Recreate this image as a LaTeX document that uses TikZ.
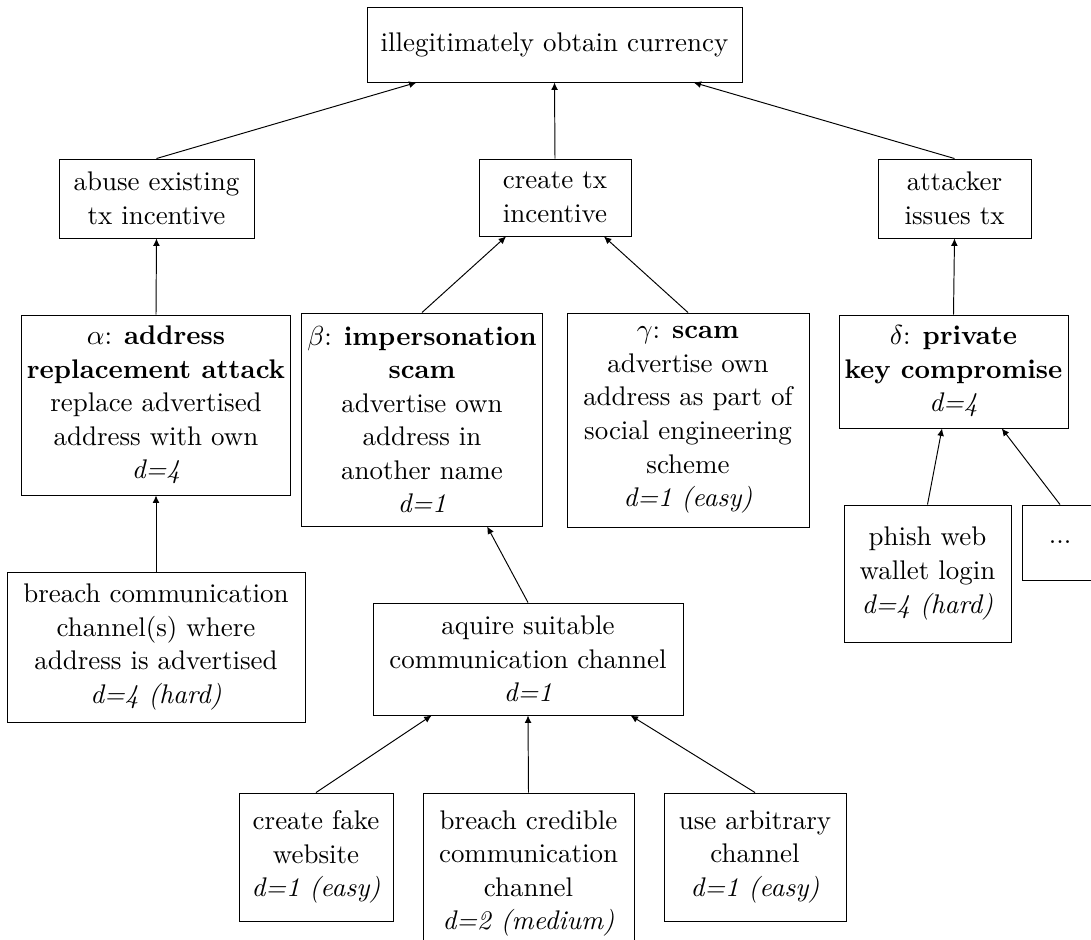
\documentclass[tikz,border=0pt]{standalone}
\usepackage{fontspec}
\usetikzlibrary{arrows.meta,calc}

\tikzset{
  box/.style={draw, line width=0.35pt, align=center, inner sep=2pt,
              font=\fontsize{9.8}{12.2}\selectfont},
  sz/.style 2 args={minimum width=#1*0.3636pt, minimum height=#2*0.3636pt},
  arr/.style={draw, line width=0.35pt, -{Latex[length=2.7pt,width=2.5pt]}},
}

\begin{document}
\begin{tikzpicture}[x=0.3636pt, y=-0.3636pt]
  \useasboundingbox (0,0) rectangle (1091,940);
  \clip (0,0) rectangle (1091,940);

  % root goal
  \node[box, sz={375}{75}] (root) at (554.5,44.5)
    {illegitimately obtain currency};

  % second level
  \node[box, sz={195}{79}] (abuse) at (156.5,198.5)
    {abuse existing\\tx incentive};
  \node[box, sz={152}{77}] (create) at (555,197.5)
    {create tx\\incentive};
  \node[box, sz={153}{79}] (issue) at (954.5,198.5)
    {attacker\\issues tx};

  % attack classes
  \node[box, sz={256}{180}] (alpha) at (156,405)
    {$\alpha$: \textbf{address}\\\textbf{replacement attack}\\replace advertised\\address with own\\\textit{d=4}};
  \node[box, sz={236}{213}] (beta) at (422,419.5)
    {$\beta$: \textbf{impersonation}\\\textbf{scam}\\advertise own\\address in\\another name\\\textit{d=1}};
  \node[box, sz={242}{214}] (gamma) at (688,420)
    {$\gamma$: \textbf{scam}\\advertise own\\address as part of\\social engineering\\scheme\\\textit{d=1 (easy)}};
  \node[box, sz={229}{113}] (delta) at (953.5,371.5)
    {$\delta$: \textbf{private}\\\textbf{key compromise}\\\textit{d=4}};

  % sub-goals
  \node[box, sz={298}{150}] (breach) at (156,647)
    {breach communication\\channel(s) where\\address is advertised\\\textit{d=4 (hard)}};
  \node[box, sz={310}{112}] (acquire) at (528,659)
    {aquire suitable\\communication channel\\\textit{d=1}};
  \node[box, sz={167}{137}] (phish) at (927.5,573.5)
    {phish web\\wallet login\\\textit{d=4 (hard)}};
  \node[box, sz={76}{75}] (more) at (1060,542.5)
    {...};

  % channel options
  \node[box, sz={154}{128}] (fake) at (316,857)
    {create fake\\website\\\textit{d=1 (easy)}};
  \node[box, sz={211}{161}] (cred) at (528.5,873.5)
    {breach credible\\communication\\channel\\\textit{d=2 (medium)}};
  \node[box, sz={182}{128}] (arbit) at (755,857)
    {use arbitrary\\channel\\\textit{d=1 (easy)}};

  % connectors, child to parent
  \draw[arr] (abuse.north)  -- ($(root.south west)!0.133!(root.south east)$);
  \draw[arr] (create.north) -- (root.south);
  \draw[arr] (issue.north)  -- ($(root.south west)!0.87!(root.south east)$);

  \draw[arr] (alpha.north) -- (abuse.south);
  \draw[arr] (beta.north)  -- ($(create.south west)!0.18!(create.south east)$);
  \draw[arr] (gamma.north) -- ($(create.south west)!0.82!(create.south east)$);
  \draw[arr] (delta.north) -- (issue.south);

  \draw[arr] (breach.north)  -- (alpha.south);
  \draw[arr] (acquire.north) -- ($(beta.south west)!0.77!(beta.south east)$);
  \draw[arr] (phish.north)   -- ($(delta.south west)!0.45!(delta.south east)$);
  \draw[arr] (more.north)    -- ($(delta.south west)!0.71!(delta.south east)$);

  \draw[arr] (fake.north)  -- ($(acquire.south west)!0.19!(acquire.south east)$);
  \draw[arr] (cred.north)  -- (acquire.south);
  \draw[arr] (arbit.north) -- ($(acquire.south west)!0.83!(acquire.south east)$);
\end{tikzpicture}
\end{document}
